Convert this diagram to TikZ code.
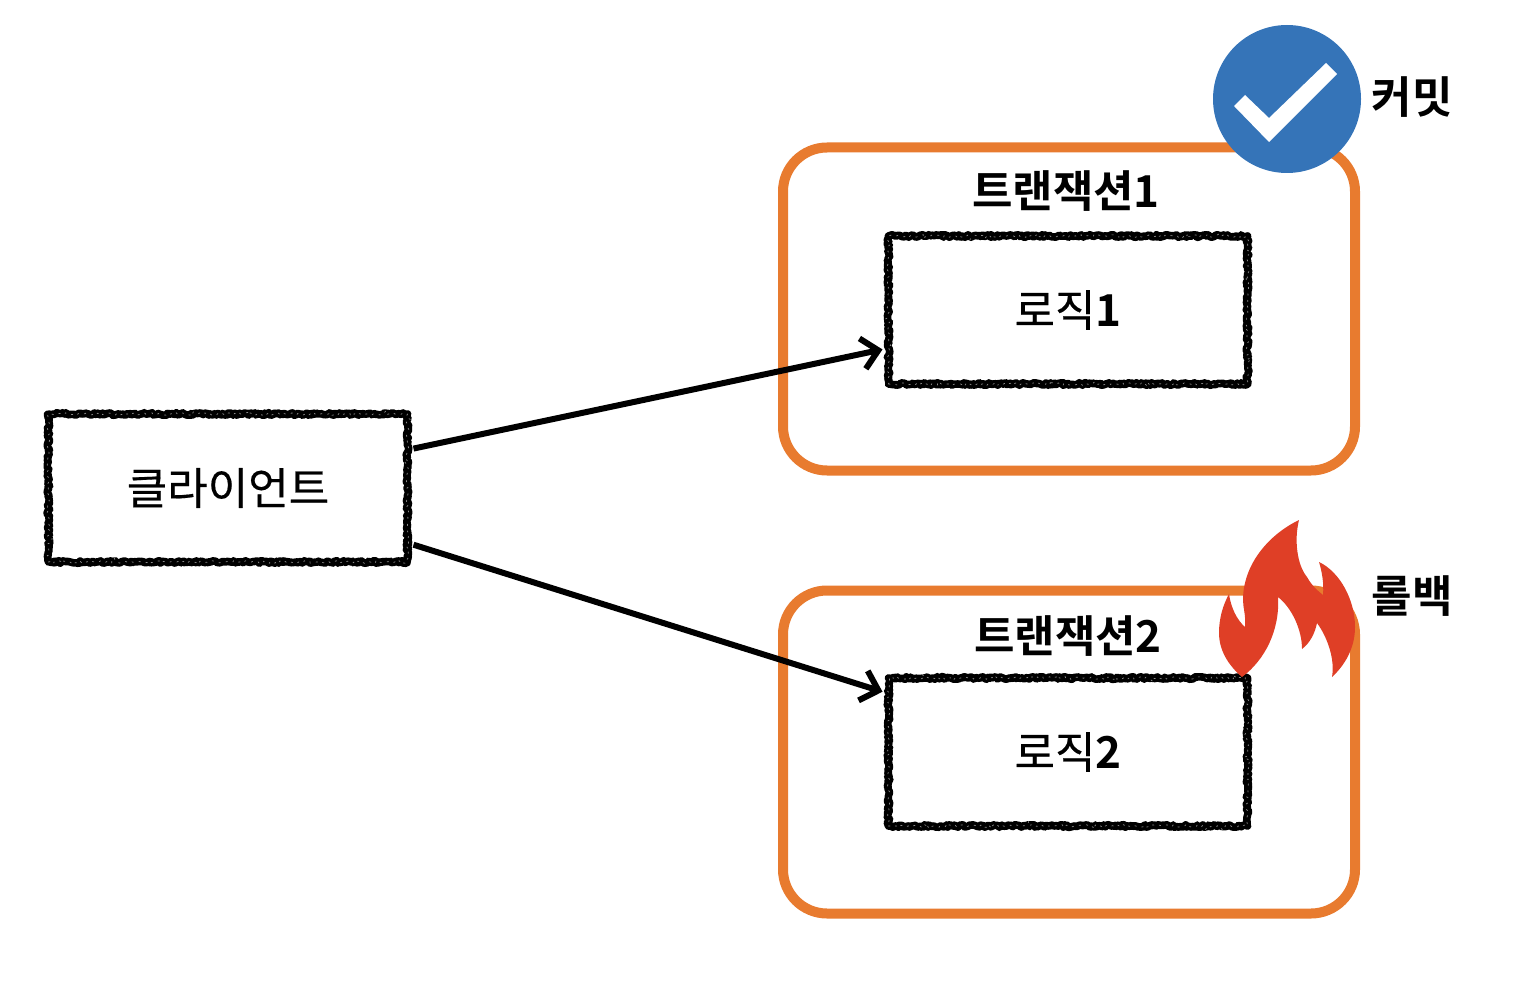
\documentclass[tikz,border=0pt]{standalone}
\usepackage{fontspec}
\newfontfamily\krfont[FakeBold=0.35]{Noto Sans CJK KR}
\newfontfamily\krbold{Noto Sans CJK KR Bold}
\usetikzlibrary{arrows.meta,decorations.pathmorphing}
\definecolor{txOrange}{HTML}{E87B2F}
\definecolor{txBlue}{HTML}{3574B8}
\definecolor{txRed}{HTML}{DF3F26}
\tikzset{
  tx group/.style={draw=txOrange, line width=10pt, rounded corners=44pt, minimum width=572pt, minimum height=323pt, inner sep=0pt},
  tx rough/.style={draw=black, line width=7.6pt, line join=round, line cap=round, decorate, decoration={random steps, segment length=1.6pt, amplitude=1.3pt}},
  tx box/.style={tx rough, minimum width=359pt, minimum height=148pt, inner sep=0pt, outer sep=6pt, font=\krfont\fontsize{44}{44}\selectfont, text=black,
    postaction={draw=white, opacity=0.55, line width=0.7pt, dash pattern=on 1.5pt off 6pt, decorate, decoration={random steps, segment length=2.5pt, amplitude=3.6pt}}},
  tx title/.style={font=\krbold\fontsize{44}{44}\selectfont, text=black, inner sep=0pt},
  tx arrow/.style={draw=black, line width=6pt, -{Straight Barb[length=16pt,width=31pt,line width=6pt]}},
}
\begin{document}
\begin{tikzpicture}[x=1pt,y=-1pt]
  \useasboundingbox (0,0) rectangle (1520,984);
  \node[tx group] (group1) at (1069,309) {};
  \node[tx group] (group2) at (1069,752) {};
  \node[tx title] (title1) at (1066,191) {트랜잭션1};
  \node[tx title] (title2) at (1068,636) {트랜잭션2};
  \node[tx box] (client) at (228,488) {클라이언트};
  \node[tx box] (logic1) at (1068,310) {로직{\krbold 1}};
  \node[tx box] (logic2) at (1068,752) {로직{\krbold 2}};
  \draw[tx arrow] (client.12) -- (logic1.192);
  \draw[tx arrow] (client.-17.6) -- (logic2.162);
  % Commit badge
  \node[circle, fill=txBlue, minimum size=148pt, inner sep=0pt] (commit) at (1287,99) {};
  \fill[white] (1234,106) -- (1269,142) -- (1337,74) -- (1326,63) -- (1269,118) -- (1245,95) -- cycle;
  \node[tx title] (commitLabel) at (1412,97) {커밋};
  % Rollback flame
  \fill[txRed] (1299,520) .. controls (1294,540) and (1297,565) .. (1307,577)
    .. controls (1312,586) and (1318,591) .. (1323,595)
    .. controls (1324,583) and (1322,572) .. (1319,562)
    .. controls (1340,572) and (1355,600) .. (1355,627)
    .. controls (1355,648) and (1345,665) .. (1332,677)
    .. controls (1335,660) and (1328,638) .. (1317,623)
    .. controls (1315,633) and (1310,643) .. (1302,649)
    .. controls (1302,630) and (1292,608) .. (1278,597)
    .. controls (1280,630) and (1265,660) .. (1242,677)
    .. controls (1228,665) and (1219,650) .. (1219,633)
    .. controls (1219,618) and (1223,605) .. (1229,594)
    .. controls (1231,608) and (1237,620) .. (1245,627)
    .. controls (1246,615) and (1243,608) .. (1243,600)
    .. controls (1243,565) and (1268,535) .. (1299,520) -- cycle;
  \node[tx title] (rollbackLabel) at (1412,596) {롤백};
\end{tikzpicture}
\end{document}
